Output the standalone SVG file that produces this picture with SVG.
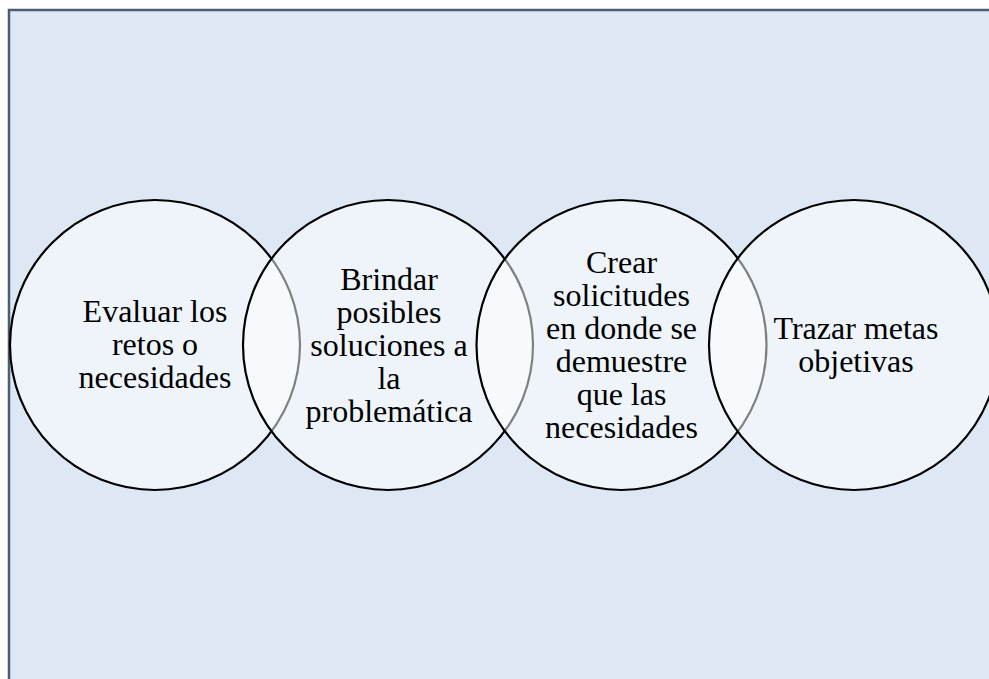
<svg xmlns="http://www.w3.org/2000/svg" width="989" height="679" viewBox="0 0 989 679">
<style>
.bg{fill:#dde8f4;stroke:#4d5d74;stroke-width:2.5}
.c{fill:#ffffff;fill-opacity:0.5;stroke:#000000;stroke-width:2.2}
.t{font-family:"Liberation Serif","Times New Roman",serif;font-size:32px;fill:#000000;text-anchor:middle}
</style>
<rect class="bg" x="9" y="10" width="1000" height="700"/>
<g id="node1"><circle class="c" cx="155" cy="345" r="145"/>
<text class="t"><tspan x="155" y="322">Evaluar los</tspan><tspan x="155" y="355">retos o</tspan><tspan x="155" y="388">necesidades</tspan></text></g>
<g id="node2"><circle class="c" cx="388" cy="345" r="145"/>
<text class="t"><tspan x="389" y="290">Brindar</tspan><tspan x="389" y="323">posibles</tspan><tspan x="389" y="356">soluciones a</tspan><tspan x="389" y="389">la</tspan><tspan x="389" y="422">problemática</tspan></text></g>
<g id="node3"><circle class="c" cx="621.5" cy="345" r="145"/>
<text class="t"><tspan x="621.5" y="273">Crear</tspan><tspan x="621.5" y="306">solicitudes</tspan><tspan x="621.5" y="339">en donde se</tspan><tspan x="621.5" y="372">demuestre</tspan><tspan x="621.5" y="405">que las</tspan><tspan x="621.5" y="438">necesidades</tspan></text></g>
<g id="node4"><circle class="c" cx="854" cy="345" r="145"/>
<text class="t"><tspan x="856" y="339">Trazar metas</tspan><tspan x="856" y="372">objetivas</tspan></text></g>
<g id="connectors"/>
</svg>
